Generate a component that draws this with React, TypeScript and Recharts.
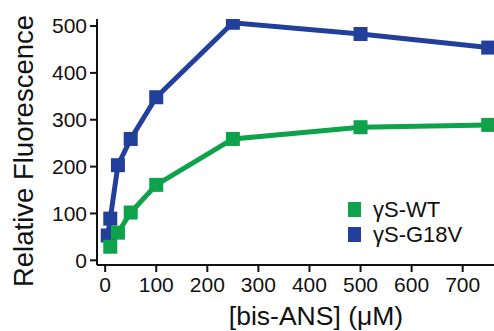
import { LineChart, Line, XAxis, YAxis, Legend } from "recharts";

// bis-ANS titration
const wtConc = [10, 25, 50, 100, 250, 500, 750];
const wtFluor = [29, 59, 102, 161, 259, 284, 289];
const g18vConc = [5, 10, 25, 50, 100, 250, 500, 750];
const g18vFluor = [53, 89, 203, 259, 348, 507, 483, 454];

const xTicks = [0, 100, 200, 300, 400, 500, 600, 700];
const yTicks = [0, 100, 200, 300, 400, 500];

const seriesNames = ["γS-WT", "γS-G18V"];
const seriesColors = ["#0ea24b", "#223f9b"];

const wtData = wtConc.map((x, i) => ({ x, y: wtFluor[i] }));
const g18vData = g18vConc.map((x, i) => ({ x, y: g18vFluor[i] }));

const FONT = "Arial, 'Liberation Sans', Helvetica, sans-serif";

const squareDot = (color: string) => (props: any) => {
  const { cx, cy, index } = props;
  return <rect key={index} x={cx - 7} y={cy - 7} width={14} height={14} fill={color} />;
};

function LegendBox() {
  return (
    <div style={{ fontFamily: FONT, fontSize: 22, color: "#111" }}>
      {seriesNames.map((name, i) => (
        <div key={name} style={{ display: "flex", alignItems: "center", height: 25 }}>
          <span style={{ display: "inline-block", width: 13, height: 15, background: seriesColors[i], marginRight: 12 }} />
          <span>{name}</span>
        </div>
      ))}
    </div>
  );
}

export default function App() {
  return (
    <div style={{ position: "absolute", left: 0, top: 0, width: 494, height: 331, overflow: "hidden", background: "#fff" }}>
      <LineChart width={520} height={331} margin={{ top: 19, right: 19, bottom: 26, left: 0 }}>
        <XAxis
          dataKey="x"
          type="number"
          domain={[-16, 775]}
          ticks={xTicks}
          allowDataOverflow
          height={40}
          stroke="#111"
          strokeWidth={2}
          tickSize={7}
          tickMargin={5}
          tick={{ fill: "#111", fontSize: 21, fontFamily: FONT }}
          label={{
            content: () => (
              <text x={316} y={325} textAnchor="middle" fill="#111" fontSize={26.5} fontFamily={FONT}>
                [bis-ANS] (μM)
              </text>
            ),
          }}
        />
        <XAxis xAxisId="top" orientation="top" type="number" domain={[-16, 775]} height={0} tick={false} tickLine={false} stroke="#111" strokeWidth={2} />
        <YAxis
          type="number"
          domain={[-10, 515]}
          ticks={yTicks}
          allowDataOverflow
          width={97}
          stroke="#111"
          strokeWidth={2}
          tickSize={7}
          tickMargin={3}
          tick={{ fill: "#111", fontSize: 21, fontFamily: FONT }}
          label={{
            content: () => (
              <text x={33} y={151} transform="rotate(-90 33 151)" textAnchor="middle" fill="#111" fontSize={27.5} fontFamily={FONT}>
                Relative Fluorescence
              </text>
            ),
          }}
        />
        <Legend
          verticalAlign="middle"
          content={() => <LegendBox />}
          wrapperStyle={{ position: "absolute", left: 348, top: 197, width: 150 }}
        />
        <Line
          data={g18vData}
          dataKey="y"
          name={seriesNames[1]}
          stroke={seriesColors[1]}
          strokeWidth={5}
          dot={squareDot(seriesColors[1])}
          isAnimationActive={false}
        />
        <Line
          data={wtData}
          dataKey="y"
          name={seriesNames[0]}
          stroke={seriesColors[0]}
          strokeWidth={5}
          dot={squareDot(seriesColors[0])}
          isAnimationActive={false}
        />
      </LineChart>
    </div>
  );
}
